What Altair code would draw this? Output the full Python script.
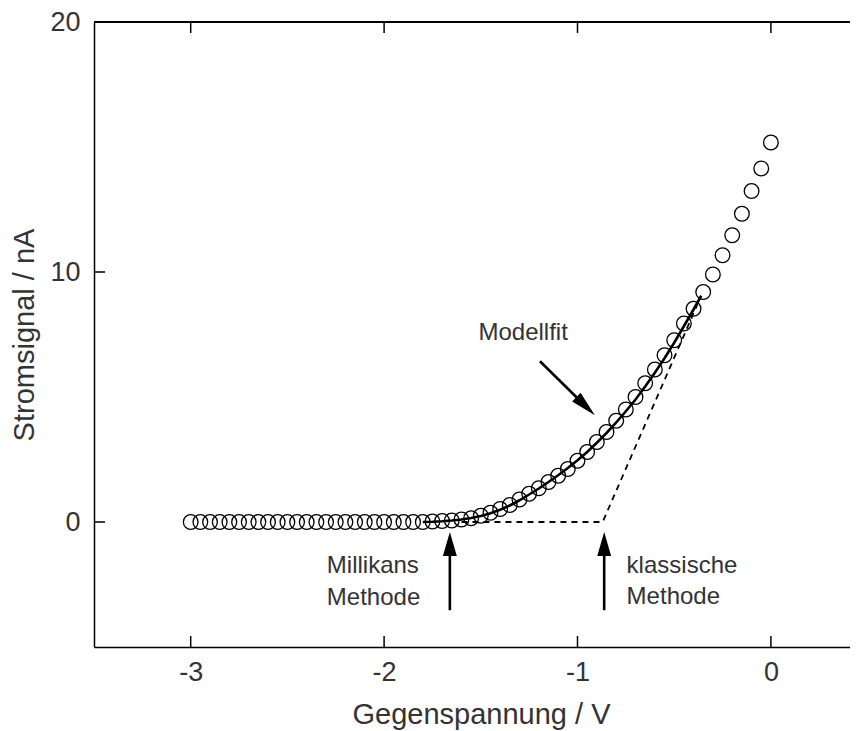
import altair as alt
import pandas as pd

# ---- data ----
volt = [-3.0, -2.95, -2.9, -2.85, -2.8, -2.75, -2.7, -2.65, -2.6, -2.55,
        -2.5, -2.45, -2.4, -2.35, -2.3, -2.25, -2.2, -2.15, -2.1, -2.05,
        -2.0, -1.95, -1.9, -1.85, -1.8, -1.75, -1.7, -1.65, -1.6, -1.55,
        -1.5, -1.45, -1.4, -1.35, -1.3, -1.25, -1.2, -1.15, -1.1, -1.05,
        -1.0, -0.95, -0.9, -0.85, -0.8, -0.75, -0.7, -0.65, -0.6, -0.55,
        -0.5, -0.45, -0.4, -0.35, -0.3, -0.25, -0.2, -0.15, -0.1, -0.05, 0.0]
current = [0.0, 0.0, 0.0, 0.0, 0.0, 0.0, 0.0, 0.0, 0.0, 0.0,
           0.0, 0.0, 0.0, 0.0, 0.0, 0.0, 0.0, 0.0, 0.0, 0.0,
           0.0, 0.0, 0.0, 0.0, 0.0, 0.02, 0.04, 0.06, 0.1, 0.15,
           0.25, 0.37, 0.52, 0.68, 0.9, 1.13, 1.35, 1.6, 1.85, 2.12,
           2.45, 2.8, 3.2, 3.6, 4.05, 4.5, 5.0, 5.55, 6.1, 6.67,
           7.27, 7.94, 8.53, 9.2, 9.9, 10.67, 11.47, 12.33, 13.24, 14.14, 15.18]

fit_x = [-1.8, -1.75, -1.7, -1.65, -1.6, -1.55, -1.5, -1.45, -1.4, -1.35,
         -1.3, -1.25, -1.2, -1.15, -1.1, -1.05, -1.0, -0.95, -0.9, -0.85,
         -0.8, -0.75, -0.7, -0.65, -0.6, -0.55, -0.5, -0.45, -0.4, -0.36]
fit_y = [0.0, 0.01, 0.03, 0.06, 0.1, 0.16, 0.24, 0.35, 0.49, 0.66,
         0.87, 1.1, 1.34, 1.6, 1.87, 2.16, 2.47, 2.8, 3.17, 3.56,
         3.98, 4.43, 4.9, 5.42, 5.97, 6.55, 7.17, 7.83, 8.5, 9.05]

classic_x = [-1.6, -0.87, -0.38]
classic_y = [0.0, 0.0, 8.7]

x_ticks = [-3, -2, -1, 0]
y_ticks = [0, 10, 20]

# annotations
label_text = ["Modellfit", "Millikans", "Methode", "klassische", "Methode"]
label_x = [-1.512, -2.296, -2.296, -0.746, -0.746]
label_y = [7.27, -2.04, -3.33, -2.04, -3.29]

shaft_x = [-1.66, -0.862, -1.194]
shaft_y = [-3.53, -3.53, 6.43]
shaft_x2 = [-1.66, -0.862, -0.958]
shaft_y2 = [-0.88, -0.88, 4.63]

FONT = "Liberation Sans"
TXT = "#333333"

pts = pd.DataFrame({"x": volt, "y": current})
fit = pd.DataFrame({"x": fit_x, "y": fit_y})
cls = pd.DataFrame({"x": classic_x, "y": classic_y})
labels = pd.DataFrame({"x": label_x, "y": label_y, "t": label_text})
shafts = pd.DataFrame({"x": shaft_x, "y": shaft_y, "x2": shaft_x2, "y2": shaft_y2})
xt = pd.DataFrame({"x": x_ticks})
yt = pd.DataFrame({"y": y_ticks})

# plot area: 193.4 px per volt, 25 px per nA; right side runs off the page
W, H = 756, 625
X_MAX = -3.5 + W / 193.4

xscale = alt.Scale(domain=[-3.5, X_MAX], nice=False, zero=False)
yscale = alt.Scale(domain=[-5, 20], nice=False, zero=False)

common = dict(domain=True, domainColor="black", domainWidth=1.5, ticks=False,
              tickSize=0, grid=False, labelFont=FONT, labelFontSize=27,
              labelColor=TXT, titleFont=FONT, titleFontSize=29, titleColor=TXT,
              titleFontWeight="normal", labelExpr="'' + datum.value")
xaxis = alt.Axis(values=x_ticks, labelPadding=12, titleX=387, titleY=76,
                 titleAlign="center", titleBaseline="alphabetic", **common)
yaxis = alt.Axis(values=y_ticks, labelPadding=14, titleX=-61, titleY=312.5,
                 titleAngle=270, titleAlign="center", titleBaseline="alphabetic",
                 **common)

X = alt.X("x:Q", scale=xscale, axis=xaxis, title="Gegenspannung / V")
Y = alt.Y("y:Q", scale=yscale, axis=yaxis, title="Stromsignal / nA")
X2h = alt.X("x2:Q", scale=xscale, axis=xaxis, title="Gegenspannung / V")
Y2h = alt.Y("y2:Q", scale=yscale, axis=yaxis, title="Stromsignal / nA")

points = alt.Chart(pts).mark_point(shape="circle", filled=False, color="black",
                                   strokeWidth=1.3, size=215, opacity=1).encode(x=X, y=Y)

fit_line = alt.Chart(fit).mark_line(color="black", strokeWidth=2.6).encode(x=X, y=Y)

classic = alt.Chart(cls).mark_line(color="black", strokeWidth=1.8,
                                   strokeDash=[6, 5]).encode(x=X, y=Y)

shaft = alt.Chart(shafts).mark_rule(color="black", strokeWidth=2.6).encode(
    x=X, y=Y, x2="x2:Q", y2="y2:Q")

heads_v = alt.Chart(shafts.iloc[:2]).mark_point(
    shape="M0,-1L0.58,1L-0.58,1Z", filled=True, color="black", opacity=1,
    size=576, strokeWidth=0).encode(x=X2h, y=Y2h)

heads_d = alt.Chart(shafts.iloc[2:]).mark_point(
    shape="M0,-1L0.46,1L-0.46,1Z", filled=True, color="black", opacity=1,
    size=676, strokeWidth=0, angle=134.5).encode(x=X2h, y=Y2h)

text = alt.Chart(labels).mark_text(align="left", baseline="alphabetic", font=FONT,
                                   fontSize=24, color=TXT).encode(x=X, y=Y, text="t:N")

tick_b = alt.Chart(xt).mark_rule(color="black", strokeWidth=1.5).encode(
    x=X, y=alt.value(H), y2=alt.value(H - 11))
tick_t = alt.Chart(xt).mark_rule(color="black", strokeWidth=1.5).encode(
    x=X, y=alt.value(0), y2=alt.value(11))
tick_l = alt.Chart(yt).mark_rule(color="black", strokeWidth=1.5).encode(
    y=Y, x=alt.value(0), x2=alt.value(11))
top_border = alt.Chart(xt).mark_rule(color="black", strokeWidth=1.5).encode(
    y=alt.value(0), x=alt.value(0), x2=alt.value(W))

chart = alt.layer(top_border, tick_b, tick_t, tick_l, classic, points, fit_line,
                  shaft, heads_v, heads_d, text).properties(
    width=W, height=H,
    autosize=alt.AutoSizeParams(type="none"),
    padding={"left": 86, "top": 14, "right": 0, "bottom": 84},
    background="white",
).configure_view(strokeWidth=0)

chart.save("out.html", embed_options={"renderer": "svg", "actions": False})
